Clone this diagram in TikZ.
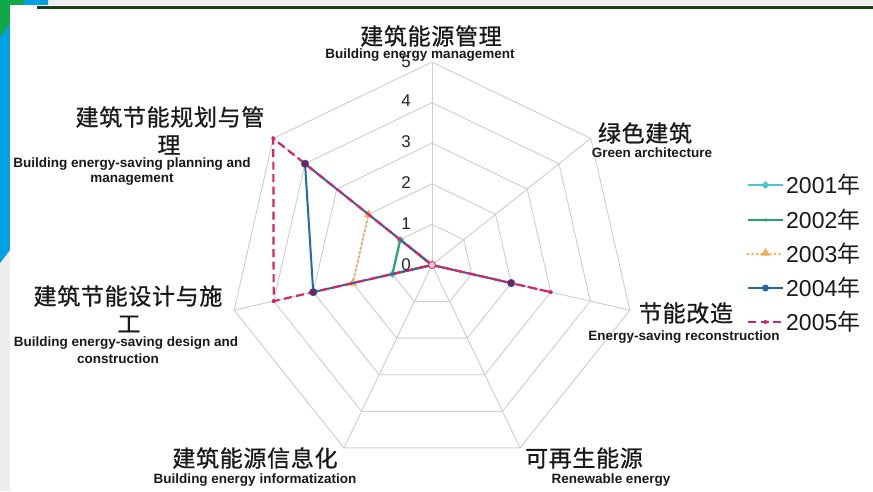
\documentclass[tikz,border=0pt]{standalone}
\usepackage{fontspec}
\setmainfont{Liberation Sans}
\newfontfamily\cjk[FakeBold=0.8,LetterSpace=3]{Noto Sans CJK SC}
\newfontfamily\cjkleg{Noto Sans CJK SC}
\usetikzlibrary{shapes.geometric}
\definecolor{bgray}{HTML}{EDEDED}
\definecolor{bblue}{HTML}{00A0E3}
\definecolor{bgreen}{HTML}{12A84A}
\definecolor{dline}{HTML}{1B3D1E}
\definecolor{gridc}{HTML}{CDCDCD}
\definecolor{c1}{HTML}{4CC6C8}
\definecolor{c2}{HTML}{27A365}
\definecolor{c3}{HTML}{F6A94E}
\definecolor{c4}{HTML}{1F6BAA}
\definecolor{c5}{HTML}{D4236F}
\definecolor{c45}{HTML}{74215F}
\tikzset{
  gridline/.style={draw=gridc, line width=0.9pt},
  s1/.style={draw=c1, line width=2pt, line join=round},
  s2/.style={draw=c2, line width=2pt, line join=round},
  s3/.style={draw=c3, line width=2.8pt, line cap=round, dash pattern=on 0pt off 4.5pt},
  s4/.style={draw=c4, line width=2pt, line join=round},
  s5/.style={draw=c5, line width=2.2pt, dash pattern=on 8pt off 4.5pt},
  mk1/.style={diamond, fill=c1, inner sep=0pt, minimum size=8pt},
  mk2/.style={circle, fill=c2, inner sep=0pt, minimum size=3.5pt},
  mk3/.style={regular polygon, regular polygon sides=3, fill=c3, inner sep=0pt, minimum size=10pt},
  mk4/.style={circle, fill=c4, inner sep=0pt, minimum size=7pt},
  mk4c/.style={circle, fill=c45, draw=c4, line width=0.6pt, inner sep=0pt, minimum size=7.5pt},
  mk5/.style={circle, fill=c5, inner sep=0pt, minimum size=4pt},
  num/.style={font=\fontsize{17}{19}\selectfont, text=black!85, inner sep=0pt},
  zh/.style={font=\cjk\fontsize{23}{26}\selectfont, text=black!90, inner sep=0pt},
  en/.style={font=\bfseries\fontsize{13.5}{15}\selectfont, text=black!90, inner sep=0pt},
  leg/.style={font=\fontsize{23}{26}\selectfont, text=black!90, inner sep=0pt, anchor=west},
}
\begin{document}
\begin{tikzpicture}[x=1pt,y=-1pt]
\useasboundingbox (0,0) rectangle (873,491);
% background
\fill[bgray] (0,0) rectangle (873,491);
\fill[bblue] (0,0) -- (48,0) -- (48,5) -- (10,5) -- (10,250) -- (0,263) -- cycle;
\fill[bgreen] (0,0) -- (25,0) -- (0,38) -- cycle;
\fill[white] (10,5) rectangle (873,491);
\draw[dline, line width=2.5pt] (37,7.5) -- (873,7.5);

\def\U{40.6}
\begin{scope}[shift={(432,265)}, yscale=-1]
  % grid
  \foreach \r in {1,...,5}
    \draw[gridline] (90:\r*\U) \foreach \k in {1,...,6}{ -- ({90-\k*360/7}:\r*\U)} -- cycle;
  \foreach \k in {0,...,6}
    \draw[gridline] (0,0) -- ({90-\k*360/7}:5*\U);
  \coordinate (O) at (0,0);
  % data coordinates (axis k: angle 90-k*360/7)
  \coordinate (a1d) at (-167.143:1*\U);
  \coordinate (a1p) at (141.429:1*\U);
  \coordinate (a2d) at (-167.143:1*\U);
  \coordinate (a2p) at (141.429:1*\U);
  \coordinate (a3d) at (-167.143:2*\U);
  \coordinate (a3p) at (141.429:2*\U);
  \coordinate (a4r) at (-12.857:2*\U);
  \coordinate (a4d) at (-167.143:3*\U);
  \coordinate (a4p) at (141.429:4*\U);
  \coordinate (a5r) at (-12.857:3*\U);
  \coordinate (a5d) at (-167.143:4*\U);
  \coordinate (a5p) at (141.429:5*\U);
\end{scope}

% series 2001
\draw[s1] (O) -- (a1d) -- (a1p) -- cycle;
\node[mk1] (m1o) at (O) {};
\node[mk1] (m1d) at (a1d) {};
\node[mk1] (m1p) at (a1p) {};
% series 2002
\draw[s2] (O) -- (a2d) -- (a2p) -- cycle;
\node[mk2] (m2d) at (a2d) {};
\node[mk2] (m2p) at (a2p) {};
% series 2003
\draw[s3] (O) -- (a3d) -- (a3p) -- cycle;
\node[mk3] (m3o) at (O) {};
\node[mk3] (m3d) at (a3d) {};
\node[mk3] (m3p) at (a3p) {};
% series 2004
\draw[s4] (O) -- (a4r) -- (O) -- (a4d) -- (a4p) -- cycle;
% series 2005
\draw[s5] (O) -- (a5r) -- (O) -- (a5d) -- (a5p) -- cycle;
\node[mk4c] (m4r) at (a4r) {};
\node[mk4c] (m4d) at (a4d) {};
\node[mk4c] (m4p) at (a4p) {};
\node[circle, draw=c5, fill=c5!25, line width=0.8pt, inner sep=0pt, minimum size=7pt] (m4o) at (O) {};
\node[mk5] (m5r) at (a5r) {};
\node[mk5] (m5d) at (a5d) {};
\node[mk5] (m5p) at (a5p) {};

% ring labels
\node[num] (n0) at (406,265) {0};
\node[num] (n1) at (406,224) {1};
\node[num] (n2) at (406,183) {2};
\node[num] (n3) at (406,142) {3};
\node[num] (n4) at (406,101) {4};
\node[num] (n5) at (406,62) {5};

% axis labels
\node[zh] (t0) at (431,36) {建筑能源管理};
\node[en] (e0) at (420,55) {Building energy management};
\node[zh] (t1) at (645,133) {绿色建筑};
\node[en] (e1) at (652,153) {Green architecture};
\node[zh] (t2) at (686,313) {节能改造};
\node[en] (e2) at (684,337) {Energy-saving reconstruction};
\node[zh] (t3) at (584,458) {可再生能源};
\node[en] (e3) at (611,480) {Renewable energy};
\node[zh] (t4) at (255,458) {建筑能源信息化};
\node[en] (e4) at (255,480) {Building energy informatization};
\node[zh] (t5) at (128,296) {建筑节能设计与施};
\node[zh] (t5b) at (129,324) {工};
\node[en] (e5) at (126,343) {Building energy-saving design and};
\node[en] (e5b) at (118,359) {construction};
\node[zh] (t6) at (170,117) {建筑节能规划与管};
\node[zh] (t6b) at (169,145) {理};
\node[en] (e6) at (132,164) {Building energy-saving planning and};
\node[en] (e6b) at (132,180) {management};

% legend
\coordinate (l1a) at (748,185); \coordinate (l1b) at (783,185);
\coordinate (l2a) at (748,220); \coordinate (l2b) at (783,220);
\coordinate (l3a) at (748,254); \coordinate (l3b) at (783,254);
\coordinate (l4a) at (748,288); \coordinate (l4b) at (783,288);
\coordinate (l5a) at (748,322); \coordinate (l5b) at (783,322);
\draw[s1] (l1a) -- (l1b);
\node[mk1] (lm1) at (765.5,185) {};
\draw[s2] (l2a) -- (l2b);
\node[mk2] (lm2) at (765.5,220) {};
\draw[s3] (l3a) -- (l3b);
\node[mk3] (lm3) at (765.5,253) {};
\draw[s4] (l4a) -- (l4b);
\node[mk4] (lm4) at (765.5,288) {};
\draw[s5] (l5a) -- (l5b);
\node[mk5] (lm5) at (765.5,322) {};
\node[leg] (lt1) at (786,185) {2001{\cjkleg 年}};
\node[leg] (lt2) at (786,220) {2002{\cjkleg 年}};
\node[leg] (lt3) at (786,254) {2003{\cjkleg 年}};
\node[leg] (lt4) at (786,288) {2004{\cjkleg 年}};
\node[leg] (lt5) at (786,322) {2005{\cjkleg 年}};
\end{tikzpicture}
\end{document}
